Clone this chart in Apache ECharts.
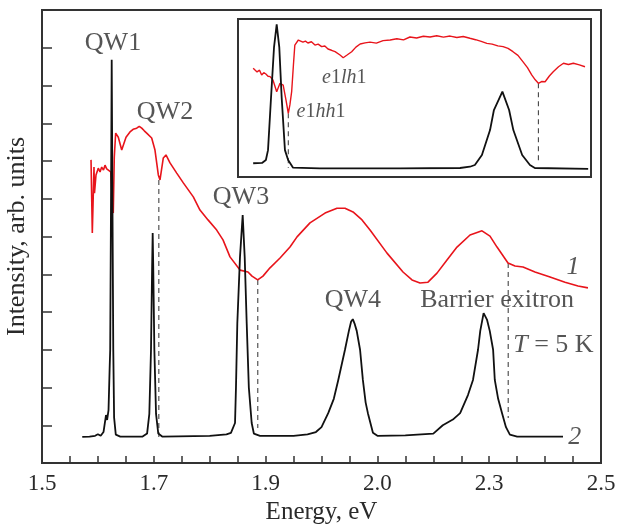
<!DOCTYPE html>
<html>
<head>
<meta charset="utf-8">
<script src="https://cdn.jsdelivr.net/npm/echarts@6/dist/echarts.min.js"></script>
<style>
  html, body { margin: 0; padding: 0; background: #fff; }
  #chart { width: 618px; height: 526px; }
</style>
</head>
<body>
<div id="chart"></div>
<script>
// x tick labels as printed (every 0.2 eV)
const tickLabels = ['1.5', '1.7', '1.9', '2.0', '2.3', '2.5']

// curve 2 (black, PL)
const energy2 = [1.572, 1.585, 1.595, 1.600, 1.605, 1.610, 1.6145, 1.6165, 1.619, 1.621, 1.622, 1.6235, 1.6247, 1.626, 1.6275, 1.629, 1.632, 1.640,
  1.680, 1.688, 1.692, 1.695, 1.697, 1.698, 1.699, 1.701, 1.704, 1.708, 1.715,
  1.800, 1.830, 1.838, 1.8453, 1.847, 1.8494, 1.8542, 1.859, 1.8626, 1.8662, 1.870, 1.8751, 1.879, 1.890,
  1.950, 1.975, 1.990, 2.000, 2.012, 2.022, 2.030, 2.042, 2.049, 2.053, 2.056, 2.059, 2.063, 2.069, 2.074, 2.079, 2.083, 2.092, 2.100,
  2.150, 2.200, 2.217, 2.235, 2.248, 2.262, 2.271, 2.280, 2.284, 2.290, 2.296, 2.301, 2.307, 2.310, 2.316, 2.323, 2.330, 2.337, 2.350, 2.432]
const intensity2 = [0.69, 0.70, 0.72, 0.76, 0.72, 0.82, 1.27, 1.14, 1.40, 2.5, 3.0, 7.0, 10.68, 7.0, 3.0, 1.2, 0.75, 0.70,
  0.70, 0.78, 1.3, 3.0, 5.2, 6.09, 5.2, 3.0, 1.3, 0.78, 0.70,
  0.72, 0.76, 0.80, 1.06, 2.0, 3.7, 5.46, 6.57, 5.46, 3.7, 2.0, 1.06, 0.78, 0.72,
  0.72, 0.76, 0.82, 0.95, 1.32, 1.7, 2.2, 3.0, 3.5, 3.75, 3.81, 3.7, 3.5, 3.0, 2.2, 1.6, 1.32, 0.8, 0.72,
  0.73, 0.78, 1.0, 1.15, 1.32, 1.8, 2.2, 3.0, 3.5, 3.97, 3.8, 3.5, 3.0, 2.2, 1.7, 1.32, 0.95, 0.75, 0.70, 0.70]

// curve 1 (red, PLE)
const energy1 = [1.5877, 1.5900, 1.5930, 1.5939, 1.5966, 1.6007, 1.6038, 1.6068, 1.6100, 1.6127, 1.6157, 1.6186, 1.6229, 1.6258, 1.6275, 1.6293,
  1.6318, 1.6365, 1.6426, 1.6454, 1.6503, 1.6574, 1.6630, 1.6694, 1.6740, 1.6784, 1.6830, 1.6873, 1.6962, 1.7021, 1.7081, 1.7111, 1.7170, 1.7218,
  1.7290, 1.7410, 1.7528, 1.7707, 1.7826, 1.7970, 1.8125, 1.8238, 1.8363, 1.8542, 1.8685, 1.8757, 1.8859, 1.8953, 1.9079, 1.9258, 1.9436,
  1.9562, 1.9794, 2.0063, 2.0277, 2.0420, 2.0564, 2.0725, 2.0868, 2.1172, 2.1458, 2.1619, 2.1762, 2.1905, 2.2066, 2.2245, 2.2424, 2.2657,
  2.2871, 2.3014, 2.3140, 2.3336, 2.3462, 2.3605, 2.3819, 2.4088, 2.4356, 2.4589, 2.4767]
const intensity1 = [8.03, 6.09, 7.84, 7.15, 7.63, 7.81, 7.71, 7.84, 7.76, 7.89, 7.79, 7.81, 7.71, 6.97, 6.62, 8.10,
  8.74, 8.63, 8.29, 8.24, 8.63, 8.77, 8.84, 8.87, 8.92, 8.87, 8.80, 8.74, 8.61, 8.29, 7.63, 7.50, 8.08, 8.16,
  7.95, 7.68, 7.42, 7.05, 6.70, 6.44, 6.17, 5.91, 5.46, 5.11, 5.06, 4.95, 4.85, 4.95, 5.17, 5.43, 5.72,
  5.99, 6.36, 6.62, 6.75, 6.75, 6.65, 6.44, 6.17, 5.56, 5.06, 4.85, 4.77, 4.79, 5.03, 5.38, 5.72, 6.04,
  6.15, 6.01, 5.72, 5.30, 5.22, 5.19, 5.06, 4.93, 4.79, 4.69, 4.64]

// dashed markers at the PLE dips
const dipEnergy = [1.709, 1.886, 2.334]
const dipTop = [7.5, 4.85, 5.30]
const dipBottom = [0.69, 0.93, 1.19]

// inset (relative units)
const insetX2 = [4.3, 6.8, 7.9, 8.5, 9.35, 10.2, 10.96, 11.7, 12.38, 13.3, 14.2, 15.6, 23.2, 45.9, 62.9, 65.7, 67.1, 69.1, 71.4, 72.5, 74.9,
  76.8, 78.0, 80.5, 82.7, 84.1, 99.2]
const insetY2 = [8.7, 8.9, 10.8, 17.0, 50.0, 82.0, 96.6, 82.0, 50.0, 17.0, 10.8, 5.9, 5.5, 5.5, 5.7, 6.5, 7.6, 13.9, 29.7, 42.4, 54.0,
  42.4, 29.7, 13.9, 7.6, 5.7, 5.1]
const insetX1 = [4.3, 5.4, 6.1, 6.7, 7.3, 7.9, 8.5, 9.1, 9.9, 10.96, 11.9, 12.8, 13.6, 14.25, 14.7, 15.2, 15.7, 16.1, 17.1, 18.4, 19.1, 19.8,
  20.8, 21.8, 22.7, 23.7, 24.6, 25.5, 26.5, 27.5, 28.9, 29.8, 30.9, 32.2, 33.4, 34.6, 36.0, 37.4, 39.2, 41.1, 43.1, 45.0, 46.9, 48.7,
  50.6, 52.5, 54.4, 56.3, 58.2, 60.1, 62.0, 63.8, 65.7, 67.3, 68.9, 70.5, 72.0, 73.6, 75.1, 76.5, 77.9, 79.3, 80.7, 82.0, 83.2, 84.2,
  85.1, 86.0, 87.0, 88.2, 89.3, 90.8, 92.2, 93.6, 95.0, 96.7, 98.3]
const insetY1 = [68.8, 66.5, 67.6, 64.6, 66.0, 65.2, 63.8, 63.5, 61.4, 54.0, 59.3, 58.2, 48.7, 40.3, 45.6, 54.0, 70.9, 83.5, 86.7, 85.4, 86.0, 84.8,
  85.6, 83.5, 84.1, 82.5, 82.9, 81.0, 80.2, 79.3, 77.2, 75.5, 77.2, 79.3, 82.2, 84.2, 84.9, 85.4, 84.7, 86.3, 86.7, 87.5, 86.8, 88.6,
  88.0, 89.1, 88.6, 89.4, 88.5, 89.2, 88.3, 88.9, 87.8, 86.9, 85.8, 84.6, 84.1, 83.0, 82.5, 81.4, 79.3, 77.0, 73.0, 69.2, 64.6, 61.5,
  59.3, 60.4, 60.3, 63.9, 66.6, 69.8, 72.0, 71.2, 72.0, 71.0, 69.8]
const insetDipX = [14.25, 85.1]
const insetDipTop = [40.3, 59.3]
const insetDipBottom = [5.7, 9.7]

// text annotations
const labelTexts = ['QW1', 'QW2', 'QW3', 'QW4', 'Barrier exitron', '{i|1}', '{i|2}']
const labelX = [1.627, 1.720, 1.856, 2.056, 2.314, 2.450, 2.453]
const labelY = [11.13, 9.30, 7.05, 4.32, 4.32, 5.19, 0.69]

const zip = (a, b) => a.map((v, i) => [v, b[i]])
const font = '"Liberation Serif", "Times New Roman", serif'
const textColor = '#2a2a2a'

const chart = echarts.init(document.getElementById('chart'))

const dipSeries = (xs, tops, bottoms, xi, yi) => xs.map((x, i) => ({
  type: 'line',
  xAxisIndex: xi,
  yAxisIndex: yi,
  data: [[x, tops[i]], [x, bottoms[i]]],
  showSymbol: false,
  silent: true,
  lineStyle: { color: '#444', width: 1.1, type: [5, 4] },
  z: 1
}))

const option = {
  animation: false,
  textStyle: { fontFamily: font },
  grid: [
    { left: 42, top: 10, right: 17, bottom: 63, show: true, borderColor: '#333', borderWidth: 2, outerBoundsMode: 'none' },
    { left: 238, top: 19, width: 353, height: 158, show: true, borderColor: '#333', borderWidth: 2, backgroundColor: '#fff', outerBoundsMode: 'none' }
  ],
  xAxis: [
    {
      type: 'value',
      gridIndex: 0,
      min: 1.5,
      max: 2.5,
      interval: 0.05,
      name: 'Energy, eV',
      nameLocation: 'middle',
      nameGap: 34,
      nameTextStyle: { fontSize: 25, color: textColor, fontFamily: font },
      axisLine: { lineStyle: { color: '#333', width: 2 } },
      axisTick: { inside: true, length: 7, lineStyle: { color: '#333', width: 1.5 } },
      splitLine: { show: false },
      axisLabel: {
        fontSize: 23,
        color: textColor,
        fontFamily: font,
        margin: 9,
        formatter: v => {
          const idx = Math.round((v - 1.5) / 0.05)
          return idx % 4 === 0 ? tickLabels[idx / 4] : ''
        }
      }
    },
    { type: 'value', gridIndex: 1, min: 0, max: 100, show: false }
  ],
  yAxis: [
    {
      type: 'value',
      gridIndex: 0,
      min: 0,
      max: 12,
      interval: 1,
      name: 'Intensity, arb. units',
      nameLocation: 'middle',
      nameGap: 12,
      nameTextStyle: { fontSize: 26, color: textColor, fontFamily: font },
      axisLine: { show: true, lineStyle: { color: '#333', width: 2 } },
      axisTick: { inside: true, length: 10, lineStyle: { color: '#333', width: 1.5 } },
      axisLabel: { show: false },
      splitLine: { show: false }
    },
    { type: 'value', gridIndex: 1, min: 0, max: 100, show: false }
  ],
  series: [
    {
      type: 'line',
      data: zip(energy1, intensity1),
      showSymbol: false,
      lineStyle: { color: '#e8141b', width: 1.6 },
      z: 3
    },
    {
      type: 'line',
      data: zip(energy2, intensity2),
      showSymbol: false,
      lineStyle: { color: '#111', width: 1.8 },
      z: 4
    },
    ...dipSeries(dipEnergy, dipTop, dipBottom, 0, 0),
    {
      type: 'scatter',
      symbolSize: 0,
      silent: true,
      data: labelTexts.map((t, i) => ({ value: [labelX[i], labelY[i]], text: t })),
      label: {
        show: true,
        position: 'inside',
        formatter: p => p.data.text,
        fontSize: 26,
        color: textColor,
        fontFamily: font,
        rich: { i: { fontStyle: 'italic', fontSize: 26, color: textColor, fontFamily: font } }
      },
      z: 5
    },
    {
      type: 'scatter',
      symbolSize: 0,
      silent: true,
      data: [{ value: [2.343, 3.13], text: '{i|T} = 5 K' }],
      label: {
        show: true,
        position: 'right',
        distance: 0,
        formatter: p => p.data.text,
        fontSize: 26,
        color: textColor,
        fontFamily: font,
        rich: { i: { fontStyle: 'italic', fontSize: 26, color: textColor, fontFamily: font } }
      },
      z: 5
    },
    // inset
    {
      type: 'line',
      xAxisIndex: 1,
      yAxisIndex: 1,
      data: zip(insetX1, insetY1),
      showSymbol: false,
      lineStyle: { color: '#e8141b', width: 1.4 },
      z: 3
    },
    {
      type: 'line',
      xAxisIndex: 1,
      yAxisIndex: 1,
      data: zip(insetX2, insetY2),
      showSymbol: false,
      lineStyle: { color: '#111', width: 1.8 },
      z: 4
    },
    ...dipSeries(insetDipX, insetDipTop, insetDipBottom, 1, 1),
    {
      type: 'scatter',
      xAxisIndex: 1,
      yAxisIndex: 1,
      symbolSize: 0,
      silent: true,
      data: [
        { value: [23.8, 62.7], text: '{i|e}1{i|lh}1' },
        { value: [16.6, 41.3], text: '{i|e}1{i|hh}1' }
      ],
      label: {
        show: true,
        position: 'right',
        distance: 0,
        formatter: p => p.data.text,
        fontSize: 20,
        color: textColor,
        fontFamily: font,
        rich: { i: { fontStyle: 'italic', fontSize: 20, color: textColor, fontFamily: font } }
      },
      z: 5
    }
  ]
}

chart.setOption(option)
</script>
</body>
</html>
